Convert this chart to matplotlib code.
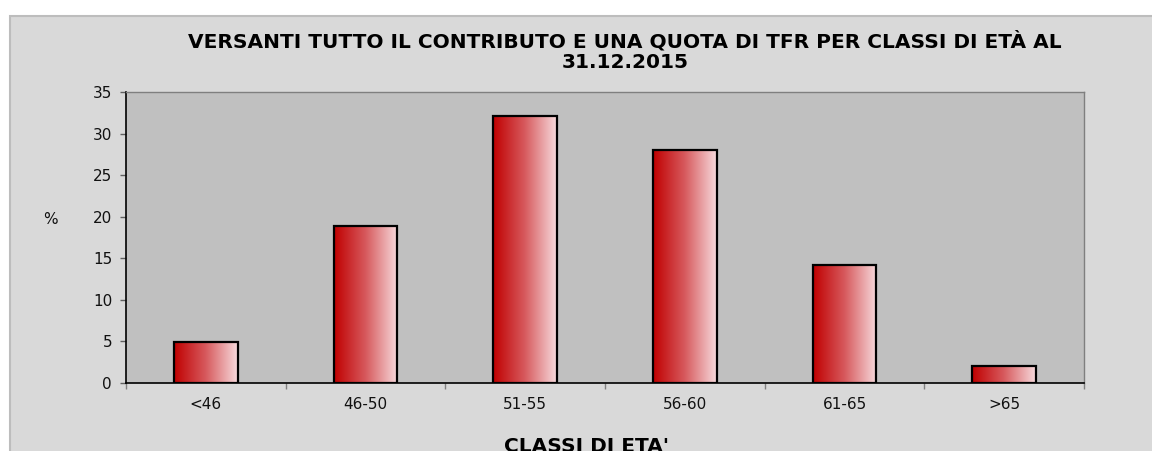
import matplotlib.pyplot as plt
from matplotlib.patches import Rectangle
from matplotlib.colors import LinearSegmentedColormap
import numpy as np

categories = ['<46', '46-50', '51-55', '56-60', '61-65', '>65']
values = [4.9, 18.9, 32.1, 28.0, 14.2, 2.1]
yticks = [0, 5, 10, 15, 20, 25, 30, 35]

W, H = 1152, 451
fig = plt.figure(figsize=(W / 100, H / 100), dpi=100)
fig.patch.set_facecolor('white')

# grey chart frame behind everything
fig.patches.append(Rectangle((10 / W, -0.05), 1.1, 1 - 16 / H + 0.05,
                             transform=fig.transFigure, facecolor='#d9d9d9',
                             edgecolor='#bdbdbd', linewidth=1.5, zorder=-10))

ax = fig.add_axes([126 / W, 1 - 383 / H, (1084 - 126) / W, (383 - 92) / H])
ax.set_facecolor('#c0c0c0')

x = np.arange(len(categories))
bars = ax.bar(x, values, width=0.4, facecolor='none', edgecolor='black',
              linewidth=1.6, zorder=3)

# horizontal red -> pale pink gradient inside every bar
grad = LinearSegmentedColormap.from_list('redfade', ['#c00000', '#d75a5e', '#f7dadd'])
g = np.linspace(0, 1, 256).reshape(1, -1)
for b in bars:
    x0, w, h = b.get_x(), b.get_width(), b.get_height()
    ax.imshow(g, cmap=grad, aspect='auto', extent=(x0, x0 + w, 0, h),
              zorder=2, interpolation='bicubic')

ax.set_xlim(-0.5, len(categories) - 0.5)
ax.set_ylim(0, 35)
ax.set_yticks(yticks)
ax.set_xticks(x)
ax.set_xticklabels(categories)
ax.set_xticks(np.arange(len(categories) + 1) - 0.5, minor=True)

ax.tick_params(axis='x', which='major', length=0, pad=10, labelsize=11,
               labelcolor='#111111')
ax.tick_params(axis='x', which='minor', length=4, color='#808080', width=1)
ax.tick_params(axis='y', length=4, color='#606060', width=1, pad=6,
               labelsize=11, labelcolor='#111111')

for s in ['left', 'bottom']:
    ax.spines[s].set_color('black')
    ax.spines[s].set_linewidth(1.2)
for s in ['top', 'right']:
    ax.spines[s].set_color('#7f7f7f')
    ax.spines[s].set_linewidth(1)

fig.text(625 / W, 1 - 52 / H,
         'VERSANTI TUTTO IL CONTRIBUTO E UNA QUOTA DI TFR PER CLASSI DI ETÀ AL\n31.12.2015',
         ha='center', va='center', fontsize=14.5, fontweight='bold',
         linespacing=1.1)
fig.text(50 / W, 1 - 219 / H, '%', ha='center', va='center', fontsize=11,
         color='#111111')
fig.text(586 / W, 1 - 437 / H, "CLASSI DI ETA'", ha='center', va='top',
         fontsize=14.5, fontweight='bold')

fig.savefig('out.png', dpi=100)
